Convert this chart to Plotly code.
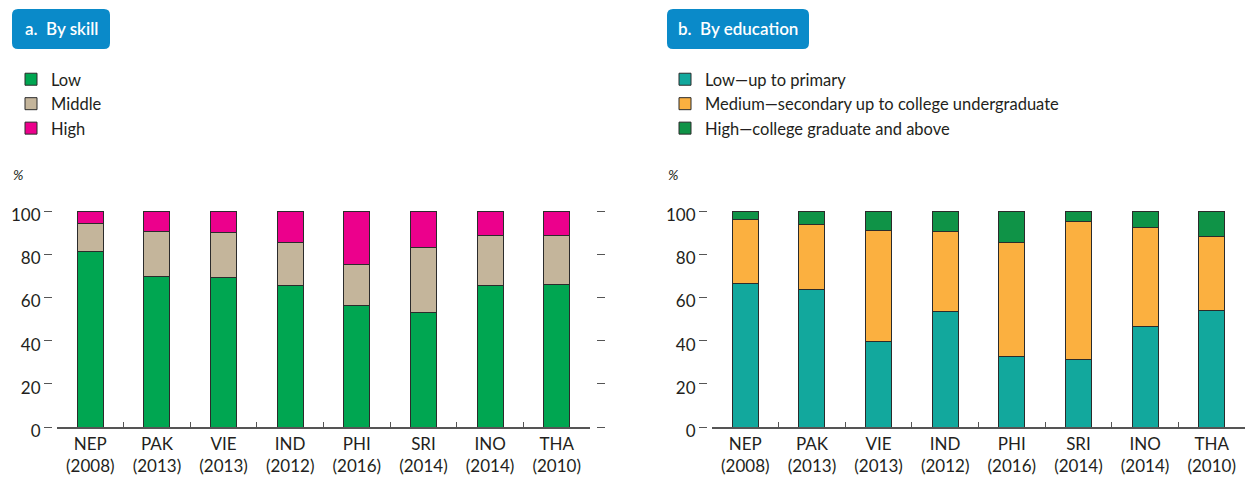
import plotly.graph_objects as go

# ---------------- data ----------------
categories = ["NEP<br>(2008)", "PAK<br>(2013)", "VIE<br>(2013)", "IND<br>(2012)",
              "PHI<br>(2016)", "SRI<br>(2014)", "INO<br>(2014)", "THA<br>(2010)"]

skill_low = [81.1, 69.6, 69.3, 65.4, 56.4, 53.0, 65.3, 66.0]
skill_middle = [13.2, 20.8, 20.6, 19.9, 18.8, 29.9, 23.5, 22.5]
skill_high = [5.7, 9.6, 10.1, 14.7, 24.8, 17.1, 11.2, 11.5]

edu_low = [66.4, 63.7, 39.7, 53.6, 32.7, 31.3, 46.7, 54.1]
edu_medium = [29.6, 29.9, 51.3, 37.1, 52.9, 64.0, 45.7, 34.3]
edu_high = [4.0, 6.4, 9.0, 9.3, 14.4, 4.7, 7.6, 11.6]

skill_names = ["Low", "Middle", "High"]
edu_names = ["Low\u2014up to primary",
             "Medium\u2014secondary up to college undergraduate",
             "High\u2014college graduate and above"]
y_ticks = [0, 20, 40, 60, 80, 100]

# ---------------- style ----------------
FW, FH = 1249, 479
FONT = "Lato"
TXT = "#231F20"
skill_colors = ["#00A651", "#C4B59B", "#EC008C"]
edu_colors = ["#12A89D", "#FBB040", "#0F9347"]
OUTLINE = "#2B2B2B"
BOX = "#0A8AC9"


def px(x):
    return x / FW


def py(y):
    return 1 - y / FH


fig = go.Figure()

for name, vals, col in zip(skill_names, [skill_low, skill_middle, skill_high], skill_colors):
    fig.add_trace(go.Bar(x=categories, y=vals, name=name, marker_color=col,
                         marker_line=dict(color=OUTLINE, width=1), width=0.39,
                         xaxis="x", yaxis="y", legend="legend"))

for name, vals, col in zip(edu_names, [edu_low, edu_medium, edu_high], edu_colors):
    fig.add_trace(go.Bar(x=categories, y=vals, name=name, marker_color=col,
                         marker_line=dict(color=OUTLINE, width=1), width=0.39,
                         xaxis="x2", yaxis="y2", legend="legend2"))

# invisible helper trace to show right-side ticks of panel a
fig.add_trace(go.Scatter(x=categories, y=[None] * len(categories), xaxis="x", yaxis="y3",
                         showlegend=False, hoverinfo="skip"))

ydom = [py(427), py(211)]
xaxis_common = dict(type="category", showline=True, linecolor="#555555", linewidth=1.5,
                    ticks="inside", tickson="boundaries", ticklen=5, tickcolor="#555555",
                    tickfont=dict(family=FONT, size=17, color=TXT), showgrid=False,
                    zeroline=False, fixedrange=True, automargin=False,
                    ticklabelstandoff=1)
yaxis_common = dict(range=[0, 100], tickvals=y_ticks, ticks="outside", ticklen=8,
                    tickcolor="#555555", tickwidth=1, showline=False, showgrid=False,
                    zeroline=False, tickfont=dict(family=FONT, size=17, color=TXT),
                    ticklabelshift=4, ticklabelstandoff=0, anchor="free", domain=ydom,
                    automargin=False, fixedrange=True)

legend_common = dict(xanchor="left", yanchor="top", traceorder="normal",
                     font=dict(family=FONT, size=16.5, color=TXT), bgcolor="rgba(0,0,0,0)")

fig.update_layout(
    width=FW, height=FH, autosize=False,
    margin=dict(l=0, r=0, t=0, b=0, pad=0),
    paper_bgcolor="white", plot_bgcolor="white",
    barmode="stack", bargap=0.6,
    font=dict(family=FONT, color=TXT),
    xaxis=dict(domain=[px(57), px(590)], anchor="y", **xaxis_common),
    xaxis2=dict(domain=[px(712), px(1245)], anchor="y2", **xaxis_common),
    yaxis=dict(position=px(52), **yaxis_common),
    yaxis2=dict(position=px(707), **yaxis_common),
    yaxis3=dict(range=[0, 100], tickvals=y_ticks, ticks="outside", ticklen=8,
                tickcolor="#555555", showticklabels=False, showline=False, showgrid=False,
                zeroline=False, overlaying="y", side="right", anchor="free",
                position=px(596), automargin=False, fixedrange=True),
    legend=dict(x=px(11), y=py(62), **legend_common),
    legend2=dict(x=px(665), y=py(62), **legend_common),
    showlegend=True,
)


def rounded_box(x0, y0, x1, y1, r=6):
    rx, ry = r / FW, r / FH
    X0, X1, T, B = px(x0), px(x1), py(y0), py(y1)
    return (f"M {X0+rx},{T} L {X1-rx},{T} Q {X1},{T} {X1},{T-ry} "
            f"L {X1},{B+ry} Q {X1},{B} {X1-rx},{B} L {X0+rx},{B} "
            f"Q {X0},{B} {X0},{B+ry} L {X0},{T-ry} Q {X0},{T} {X0+rx},{T} Z")


for (x0, x1, label) in [(12, 110, "a.\u00a0\u00a0By skill"), (667, 809, "b.\u00a0\u00a0By education")]:
    fig.add_shape(type="path", path=rounded_box(x0, 9, x1, 49), xref="paper", yref="paper",
                  fillcolor=BOX, line=dict(width=0), layer="above")
    fig.add_annotation(x=px((x0 + x1) / 2), y=py(29), xref="paper", yref="paper",
                       text=label, showarrow=False, xanchor="center", yanchor="middle",
                       font=dict(family=FONT, size=17, color="white", weight=600))

for xl in [11, 666]:
    fig.add_annotation(x=px(xl), y=py(175), xref="paper", yref="paper", text="%",
                       showarrow=False, xanchor="left", yanchor="middle",
                       font=dict(family=FONT, size=14, color=TXT, style="italic"))

fig.write_html("out.html", config={"displayModeBar": False},
               post_script="document.body.style.margin='0px';")
